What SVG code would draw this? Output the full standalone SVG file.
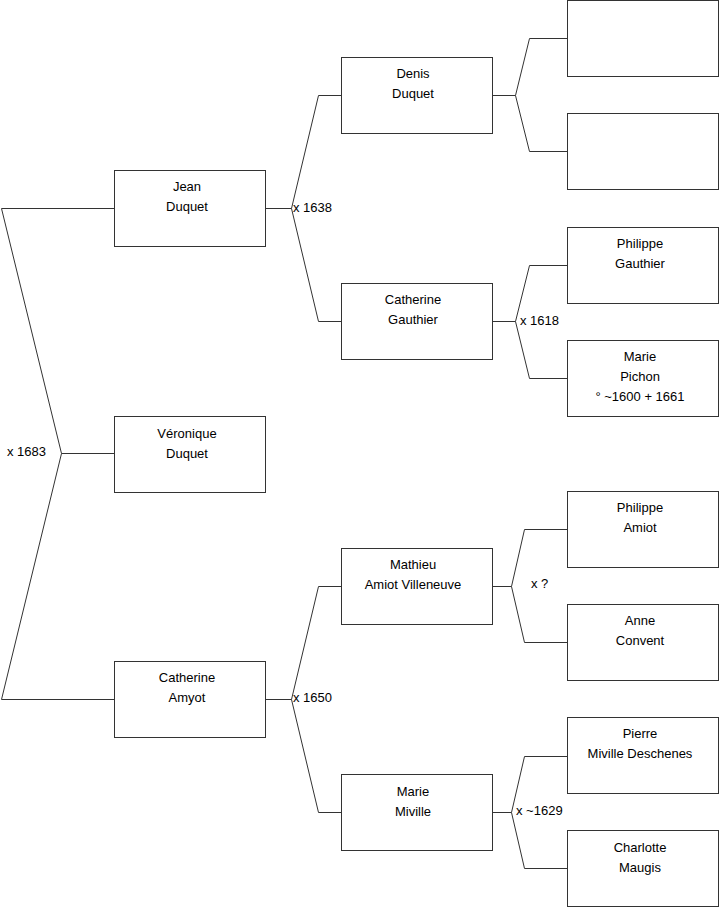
<svg xmlns="http://www.w3.org/2000/svg" width="719" height="908" viewBox="0 0 719 908">
<style>
.box{fill:#fff;stroke:#333;stroke-width:1}
.c{fill:none;stroke:#333;stroke-width:1}
text{font-family:"Liberation Sans",Arial,sans-serif;font-size:13px;fill:#000}
.n{text-anchor:middle}
</style>
<rect width="719" height="908" fill="#fff"/>
<g id="connectors">
<path class="c" d="M114.5,208.5H1.5L61.5,453.5L1.5,699.5H114.5M61.5,453.5H114.5"/>
<path class="c" d="M265.5,208.5H291.5M341.5,95.5H318.5L291.5,208.5L318.5,321.5H341.5"/>
<path class="c" d="M492.5,95.5H515.5M567.5,38.5H529.5L515.5,95.5L529.5,151.5H567.5"/>
<path class="c" d="M492.5,321.5H515.5M567.5,265.5H529.5L515.5,321.5L529.5,378.5H567.5"/>
<path class="c" d="M265.5,699.5H291.5M341.5,586.5H318.5L291.5,699.5L318.5,812.5H341.5"/>
<path class="c" d="M492.5,586.5H511.5M567.5,529.5H524.5L511.5,586.5L524.5,642.5H567.5"/>
<path class="c" d="M492.5,812.5H511.5M567.5,756.5H524.5L511.5,812.5L524.5,868.5H567.5"/>
<text x="7" y="456">x 1683</text>
<text x="293" y="212">x 1638</text>
<text x="520" y="325">x 1618</text>
<text x="293" y="702">x 1650</text>
<text x="531" y="588">x ?</text>
<text x="516" y="815">x ~1629</text>
</g>
<g id="jean"><rect class="box" x="114.5" y="170.5" width="151" height="76"/><text class="n" x="187" y="191">Jean</text><text class="n" x="187" y="211">Duquet</text></g>
<g id="veronique"><rect class="box" x="114.5" y="416.5" width="151" height="76"/><text class="n" x="187" y="438">Véronique</text><text class="n" x="187" y="458">Duquet</text></g>
<g id="catherine-amyot"><rect class="box" x="114.5" y="661.5" width="151" height="76"/><text class="n" x="187" y="682">Catherine</text><text class="n" x="187" y="702">Amyot</text></g>
<g id="denis"><rect class="box" x="341.5" y="57.5" width="151" height="76"/><text class="n" x="413" y="78">Denis</text><text class="n" x="413" y="98">Duquet</text></g>
<g id="catherine-gauthier"><rect class="box" x="341.5" y="283.5" width="151" height="76"/><text class="n" x="413" y="304">Catherine</text><text class="n" x="413" y="324">Gauthier</text></g>
<g id="mathieu"><rect class="box" x="341.5" y="548.5" width="151" height="76"/><text class="n" x="413" y="569">Mathieu</text><text class="n" x="413" y="589">Amiot Villeneuve</text></g>
<g id="marie-miville"><rect class="box" x="341.5" y="774.5" width="151" height="76"/><text class="n" x="413" y="796">Marie</text><text class="n" x="413" y="816">Miville</text></g>
<g id="unknown1"><rect class="box" x="567.5" y="0.5" width="151" height="76"/></g>
<g id="unknown2"><rect class="box" x="567.5" y="113.5" width="151" height="76"/></g>
<g id="philippe-gauthier"><rect class="box" x="567.5" y="227.5" width="151" height="76"/><text class="n" x="640" y="248">Philippe</text><text class="n" x="640" y="268">Gauthier</text></g>
<g id="marie-pichon"><rect class="box" x="567.5" y="340.5" width="151" height="76"/><text class="n" x="640" y="361">Marie</text><text class="n" x="640" y="381">Pichon</text><text class="n" x="640" y="401">° ~1600 + 1661</text></g>
<g id="philippe-amiot"><rect class="box" x="567.5" y="491.5" width="151" height="76"/><text class="n" x="640" y="512">Philippe</text><text class="n" x="640" y="532">Amiot</text></g>
<g id="anne-convent"><rect class="box" x="567.5" y="604.5" width="151" height="76"/><text class="n" x="640" y="625">Anne</text><text class="n" x="640" y="645">Convent</text></g>
<g id="pierre-miville"><rect class="box" x="567.5" y="717.5" width="151" height="76"/><text class="n" x="640" y="738">Pierre</text><text class="n" x="640" y="758">Miville Deschenes</text></g>
<g id="charlotte-maugis"><rect class="box" x="567.5" y="830.5" width="151" height="76"/><text class="n" x="640" y="852">Charlotte</text><text class="n" x="640" y="872">Maugis</text></g>
</svg>
